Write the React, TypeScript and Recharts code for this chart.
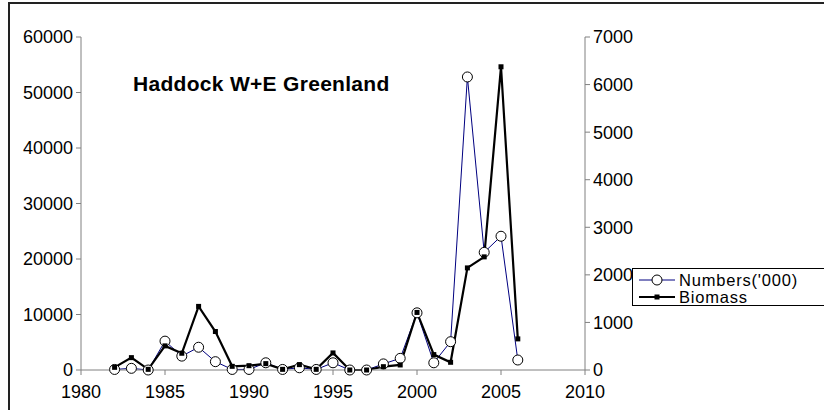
import React from 'react';
import { LineChart, Line, XAxis, YAxis } from 'recharts';

// survey years and values
const years = [1982, 1983, 1984, 1985, 1986, 1987, 1988, 1989, 1990, 1991, 1992, 1993, 1994,
  1995, 1996, 1997, 1998, 1999, 2000, 2001, 2002, 2003, 2004, 2005, 2006];
const numbers = [100, 300, 0, 5200, 2500, 4100, 1500, 100, 100, 1300, 100, 400, 100,
  1300, 0, 0, 1100, 2100, 10300, 1300, 5100, 52800, 21200, 24100, 1800];
const biomass = [56, 260, 14, 507, 352, 1337, 809, 77, 91, 134, 14, 113, 14,
  359, 0, 0, 70, 106, 1210, 324, 162, 2146, 2378, 6374, 654];

const xTicks = [1980, 1985, 1990, 1995, 2000, 2005, 2010];
const leftTicks = [0, 10000, 20000, 30000, 40000, 50000, 60000];
const rightTicks = [0, 1000, 2000, 3000, 4000, 5000, 6000, 7000];

const data = years.map((y, i) => ({ year: y, numbers: numbers[i], biomass: biomass[i] }));

const font = '"Liberation Sans", Arial, sans-serif';
const tickStyle = { fill: '#000', fontSize: 18, fontFamily: font };
const axisColor = '#808080';

const SquareDot = (props: any) => {
  const { cx, cy, index } = props;
  if (cx == null || cy == null) return <g key={'s' + index} />;
  return <rect key={'s' + index} x={cx - 2.5} y={cy - 2.5} width={5} height={5} fill="#000" />;
};

const LegendBox = () => (
  <div style={{
    position: 'absolute', left: 622, top: 264, width: 220, height: 38, boxSizing: 'border-box',
    paddingTop: 3, border: '1px solid #000', background: '#fff',
    fontFamily: font, fontSize: 16.5, lineHeight: '16px', letterSpacing: 0.8,
  }}>
    <div style={{ display: 'flex', alignItems: 'center', height: 16.5 }}>
      <svg width={40} height={14} style={{ marginLeft: 4 }}>
        <line x1={2} y1={7} x2={38} y2={7} stroke="#000080" strokeWidth={1} />
        <circle cx={20} cy={7} r={5} fill="#fff" stroke="#000" />
      </svg>
      <span style={{ marginLeft: 2 }}>Numbers('000)</span>
    </div>
    <div style={{ display: 'flex', alignItems: 'center', height: 16.5 }}>
      <svg width={40} height={14} style={{ marginLeft: 4 }}>
        <line x1={2} y1={7} x2={38} y2={7} stroke="#000" strokeWidth={2} />
        <rect x={17.5} y={4.5} width={5} height={5} fill="#000" />
      </svg>
      <span style={{ marginLeft: 2 }}>Biomass</span>
    </div>
  </div>
);

export default function App() {
  return (
    <div style={{
      position: 'absolute', top: 2, left: 8, width: 814, height: 406,
      borderLeft: '2px solid #222', borderTop: '2px solid #222', overflow: 'hidden', background: '#fff',
    }}>
      <LineChart width={814} height={406} data={data}
        margin={{ top: 33, right: 179, bottom: 0, left: 0 }}>
        <XAxis dataKey="year" type="number" domain={[1980, 2010]} ticks={xTicks}
          tick={tickStyle} tickSize={5} tickMargin={10} height={40} interval={0}
          axisLine={{ stroke: axisColor }} tickLine={{ stroke: axisColor }} />
        <YAxis yAxisId="left" domain={[0, 60000]} ticks={leftTicks} width={71}
          tick={tickStyle} tickSize={5} tickMargin={3} interval={0}
          axisLine={{ stroke: axisColor }} tickLine={{ stroke: axisColor }} />
        <YAxis yAxisId="right" orientation="right" domain={[0, 7000]} ticks={rightTicks} width={60}
          tick={tickStyle} tickSize={5} tickMargin={3} interval={0}
          axisLine={{ stroke: axisColor }} tickLine={{ stroke: axisColor }} />
        <Line yAxisId="left" dataKey="numbers" name="Numbers('000)" stroke="#000080" strokeWidth={1}
          dot={{ r: 5, fill: '#fff', stroke: '#000', strokeWidth: 1 }} isAnimationActive={false} />
        <Line yAxisId="right" dataKey="biomass" name="Biomass" stroke="#000" strokeWidth={2.2}
          dot={SquareDot} isAnimationActive={false} />
      </LineChart>
      <div style={{
        position: 'absolute', left: 123, top: 68, fontFamily: font, fontWeight: 'bold', fontSize: 21,
        letterSpacing: 0.3,
      }}>
        Haddock W+E Greenland
      </div>
      <LegendBox />
    </div>
  );
}
